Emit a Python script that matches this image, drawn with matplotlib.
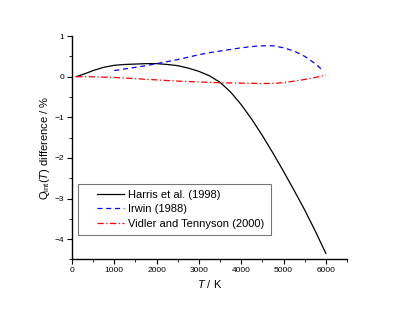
import matplotlib
matplotlib.use("Agg")
import matplotlib.pyplot as plt
from matplotlib.ticker import MultipleLocator
from matplotlib.lines import Line2D
from matplotlib.legend_handler import HandlerLine2D

plt.rcParams['font.family'] = ['Liberation Sans', 'DejaVu Sans']
plt.rcParams['mathtext.fontset'] = 'custom'
plt.rcParams['mathtext.rm'] = 'Liberation Sans'
plt.rcParams['mathtext.it'] = 'Liberation Sans:italic'

# Harris et al. (1998)
harris_T = [100, 300, 500, 750, 1000, 1250, 1500, 1750, 2000, 2250, 2500, 2750, 3000,
            3250, 3500, 3750, 4000, 4250, 4500, 4750, 5000, 5250, 5500, 5750, 6000]
harris_v = [0.0, 0.07, 0.15, 0.23, 0.28, 0.30, 0.31, 0.32, 0.32, 0.30, 0.27, 0.21, 0.13,
            0.02, -0.14, -0.38, -0.69, -1.05, -1.45, -1.88, -2.33, -2.80, -3.28, -3.80, -4.35]

# Irwin (1988)
irwin_T = [1000, 1250, 1500, 1750, 2000, 2250, 2500, 2750, 3000, 3250, 3500,
           3750, 4000, 4250, 4500, 4750, 5000, 5250, 5500, 5750, 5950]
irwin_v = [0.15, 0.19, 0.23, 0.27, 0.32, 0.37, 0.42, 0.48, 0.54, 0.59, 0.63,
           0.67, 0.71, 0.74, 0.76, 0.76, 0.71, 0.63, 0.50, 0.32, 0.13]

# Vidler and Tennyson (2000)
vidler_T = [100, 500, 1000, 1500, 2000, 2500, 3000, 3500, 4000, 4500, 4750, 5000, 5250, 5500, 5750, 6000]
vidler_v = [0.0, -0.005, -0.02, -0.05, -0.08, -0.11, -0.13, -0.15, -0.16, -0.17, -0.165, -0.15, -0.11, -0.07, -0.02, 0.04]

fig = plt.figure(figsize=(4.03, 3.11), dpi=100)
ax = fig.add_axes([0.1787, 0.1656, 0.6823, 0.7186])

ax.plot(harris_T, harris_v, color='black', lw=0.9, ls='-', label='Harris et al. (1998)')
ax.plot(irwin_T, irwin_v, color='blue', lw=0.9, ls=(0, (4, 3)), label='Irwin (1988)')
ax.plot(vidler_T, vidler_v, color='red', lw=0.9, ls=(0, (5, 2, 1, 2)), label='Vidler and Tennyson (2000)')

ax.set_xlim(0, 6500)
ax.set_ylim(-4.5, 1)
ax.xaxis.set_major_locator(MultipleLocator(1000))
ax.xaxis.set_minor_locator(MultipleLocator(500))
ax.yaxis.set_major_locator(MultipleLocator(1))
ax.yaxis.set_minor_locator(MultipleLocator(0.5))
ax.set_xticks(range(0, 6001, 1000))

ax.spines['top'].set_visible(False)
ax.spines['right'].set_visible(False)
for s in ('left', 'bottom'):
    ax.spines[s].set_linewidth(1.0)
ax.tick_params(which='major', direction='out', length=3.5, width=0.8, labelsize=6, pad=2)
ax.tick_params(which='minor', direction='out', length=2, width=0.6)

ax.set_xlabel('$T$ / K', fontsize=8, labelpad=3)
ax.set_ylabel('$\\mathrm{Q}_{\\mathrm{int}}(T)$ difference / %', fontsize=8, labelpad=2)

# extra space before the legend lines, as in the original
leg = ax.legend(loc='lower left', bbox_to_anchor=(0.022, 0.11), borderaxespad=0, fontsize=8,
                frameon=True, fancybox=False, edgecolor='#555555', handlelength=3.6,
                handletextpad=0.36, borderpad=0.55, labelspacing=0.4,
                handler_map={Line2D: HandlerLine2D(xpad=1.17)})
leg.get_frame().set_linewidth(0.8)

fig.savefig('out.png', dpi=100)
